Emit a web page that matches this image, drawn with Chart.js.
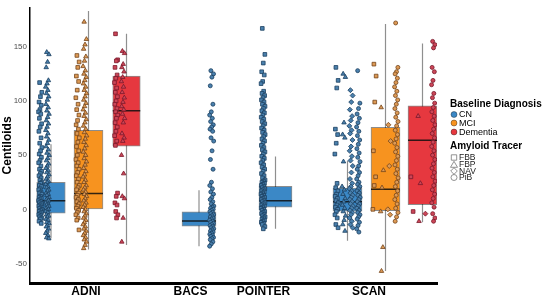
<!DOCTYPE html>
<html>
<head>
<meta charset="utf-8">
<script src="https://cdn.jsdelivr.net/npm/chart.js@4.4.0/dist/chart.umd.min.js"></script>
<style>
  html, body { margin: 0; padding: 0; background: #fff; }
  canvas { display: block; }
</style>
</head>
<body>
<canvas id="grafico" width="546" height="298"></canvas>
<script>
// Categorías
const studies = ['ADNI', 'BACS', 'POINTER', 'SCAN'];
const diagnoses = ['CN', 'MCI', 'Dementia'];
const tracers = ['FBB', 'FBP', 'NAV', 'PiB'];
const yTicks = [-50, 0, 50, 100, 150];

// Cajas (una por estudio / diagnóstico)
const boxStudy     = ['ADNI', 'ADNI', 'ADNI', 'BACS', 'POINTER', 'SCAN', 'SCAN', 'SCAN'];
const boxDiagnosis = ['CN', 'MCI', 'Dementia', 'CN', 'CN', 'CN', 'MCI', 'Dementia'];
const boxLow    = [-27, -37, -33, -34, -18, -29, -57, -12];
const boxQ1     = [-3.6, 0.3, 58.3, -15.5, 2.1, -1.8, -1.2, 4.2];
const boxMedian = [7.8, 14.6, 91, -10.7, 8, 7, 18.5, 63.7];
const boxQ3     = [25, 73, 123, -2.4, 21.2, 19.6, 75.6, 95.5];
const boxHigh   = [60, 183, 162, 17.6, 48.8, 44.6, 171, 153];

// Puntos individuales (Centiloids) por estudio / diagnóstico / trazador
const adniCnFbb = [117, 108, 104, 99, 96, 92, 90, 88, 84, 79, 76, 72, 66, 61, 57, 54, 51, 48, 45, 43, 40, 37, 35, 33, 31, 29, 27, 25, 24, 22, 21, 19, 18, 16, 15, 14, 12, 11, 10, 9, 8, 7, 6, 5, 4, 3, 2, 1, 0, -1, -2, -3, -4, -5, -6, -7, -8, -9, -11, -13];
const adniCnFbp = [145, 143, 136, 131, 119, 116, 113, 110, 107, 104, 101, 97, 94, 91, 88, 85, 82, 79, 76, 73, 70, 67, 64, 61, 58, 55, 52, 50, 47, 45, 42, 40, 38, 36, 34, 32, 30, 28, 26, 25, 23, 21, 20, 18, 17, 15, 14, 13, 11, 10, 9, 8, 7, 6, 5, 4, 3, 2, 1, 0, -1, -2, -3, -5, -6, -7, -9, -10, -12, -13, -15, -16, -18, -20, -22, -24, -26, -27];
const adniMciFbb = [142, 136, 131, 123, 118, 110, 103, 97, 92, 87, 82, 78, 74, 70, 66, 62, 58, 54, 50, 46, 43, 40, 37, 34, 31, 28, 25, 22, 20, 18, 15, 13, 11, 9, 7, 5, 3, 1, -1, -3, -5, -8, -10, -19];
const adniMciFbp = [173, 157, 152, 148, 141, 137, 132, 128, 125, 122, 119, 116, 113, 110, 107, 104, 101, 98, 95, 92, 89, 86, 83, 80, 77, 74, 71, 68, 65, 62, 59, 56, 53, 50, 47, 44, 41, 38, 35, 32, 30, 27, 25, 22, 20, 18, 16, 14, 12, 10, 8, 6, 4, 2, 0, -2, -4, -6, -8, -10, -12, -14, -16, -18, -20, -22, -24, -26, -28, -30, -33, -36];
const adniDemFbb = [162, 138, 137, 131, 124, 121, 117, 112, 108, 104, 100, 97, 93, 90, 87, 84, 80, 76, 72, 68, 63, 59, 15, 12, 6, 4, -2, -5, -8];
const adniDemFbp = [146, 144, 134, 131, 127, 122, 118, 113, 108, 103, 99, 95, 92, 88, 84, 80, 70, 66, 63, 50, 33, 12, 10, -8, -30];
const bacsCnPib = [128, 125, 122, 114, 97, 90, 87, 84, 81, 78, 76, 74, 72, 66, 63, 54, 46, 37, 25, 22, 19, 16, 14, 11, 9, 7, 5, 3, 2, 1, 0, -1, -2, -3, -4, -5, -6, -7, -8, -9, -10, -11, -12, -13, -14, -15, -16, -17, -18, -19, -20, -21, -22, -23, -24, -25, -26, -27, -28, -30, -32, -34];
const pointerCnFbb = [167, 143, 135, 127, 124, 118, 116, 109, 107, 105, 103, 101, 99, 97, 95, 93, 91, 89, 87, 85, 83, 81, 79, 77, 75, 73, 71, 69, 67, 65, 63, 61, 59, 57, 55, 53, 51, 49, 47, 45, 43, 41, 39, 37, 35, 33, 31, 29, 27, 26, 25, 24, 23, 22, 21, 20, 19, 18, 17, 16, 15, 14, 13, 12, 11, 10, 9, 8, 7, 6, 5, 4, 3, 2, 1, 0, -1, -2, -3, -4, -5, -6, -7, -8, -9, -10, -11, -12, -13, -14, -16, -18];
const scanCnFbb = [131, 119, 112, 74, 69, 61, 51, 24, 20, 17, 14, 12, 10, 8, 6, 4, 2, 0, -2, -5, -8, -14, -17];
const scanCnFbp = [125, 122, 80, 69, 66, 44, 21, 18, 14, 10, 7, 4, 1, -2, -6, -10, -14, -20];
const scanCnNav = [110, 105, 99, 92, 86, 82, 77, 73, 70, 64, 58, 54, 49, 45, 40, 34, 28, 24, 21, 19, 17, 15, 13, 11, 9, 7, 5, 3, 1, -1, -3, -5, -8, -11, -14, -17];
const scanCnPib = [128, 98, 93, 88, 84, 80, 76, 72, 68, 64, 60, 56, 52, 48, 44, 40, 37, 34, 31, 28, 25, 23, 21, 19, 17, 15, 13, 11, 9, 7, 5, 3, 1, -1, -3, -5, -7, -9, -12, -15, -18, -21];
const scanMciFbb = [134, 123, 99, 54, 30, 22, 0];
const scanMciFbp = [94, 36, 20, -2, -35, -57];
const scanMciNav = [78, 63, 40, 0, -5];
const scanMciPib = [172, 131, 127, 125, 121, 117, 113, 109, 105, 101, 97, 93, 89, 85, 81, 77, 73, 69, 65, 61, 57, 53, 49, 45, 41, 37, 33, 29, 25, 21, 17, 13, 9, 5, 1, -3, -7, -11];
const scanDemFbb = [30, -2];
const scanDemFbp = [86, 24, -11];
const scanDemNav = [-4];
const scanDemPib = [155, 152, 149, 131, 127, 119, 115, 107, 103, 98, 94, 90, 86, 82, 78, 74, 70, 66, 62, 58, 54, 50, 46, 42, 38, 34, 30, 26, 22, 18, 14, 10, 6, 2, -4, -8, -11];

const pointGroups = [
    ['ADNI', 'CN', 'FBB', adniCnFbb], ['ADNI', 'CN', 'FBP', adniCnFbp],
    ['ADNI', 'MCI', 'FBB', adniMciFbb], ['ADNI', 'MCI', 'FBP', adniMciFbp],
    ['ADNI', 'Dementia', 'FBB', adniDemFbb], ['ADNI', 'Dementia', 'FBP', adniDemFbp],
    ['BACS', 'CN', 'PiB', bacsCnPib],
    ['POINTER', 'CN', 'FBB', pointerCnFbb],
    ['SCAN', 'CN', 'FBB', scanCnFbb], ['SCAN', 'CN', 'FBP', scanCnFbp],
    ['SCAN', 'CN', 'NAV', scanCnNav], ['SCAN', 'CN', 'PiB', scanCnPib],
    ['SCAN', 'MCI', 'FBB', scanMciFbb], ['SCAN', 'MCI', 'FBP', scanMciFbp],
    ['SCAN', 'MCI', 'NAV', scanMciNav], ['SCAN', 'MCI', 'PiB', scanMciPib],
    ['SCAN', 'Dementia', 'FBB', scanDemFbb], ['SCAN', 'Dementia', 'FBP', scanDemFbp],
    ['SCAN', 'Dementia', 'NAV', scanDemNav], ['SCAN', 'Dementia', 'PiB', scanDemPib]
];

// Diseño (posiciones en unidades del eje x = píxeles)
const studyTickX = { ADNI: 86, BACS: 190.5, POINTER: 263.5, SCAN: 369 };
const boxCenterX = [51, 88.5, 126.5, 199, 275.5, 347.5, 385.5, 422.5];
const boxWidth = [28.5, 29, 27.5, 34, 33, 29, 29, 29];

// Estilos
const fuente = '"Liberation Sans", Arial, Helvetica, sans-serif';
const colorCaja = { CN: '#3b88c6', MCI: '#f7931f', Dementia: '#e6383f' };
const colorPunto = { CN: '#4a80ad', MCI: '#dd9a55', Dementia: '#cc4658' };
const bordePunto = { CN: '#1b3f60', MCI: '#74441a', Dementia: '#781829' };
const estiloTrazador = { FBB: 'rect', FBP: 'triangle', NAV: 'rectRot', PiB: 'circle' };
const radioTrazador = { FBB: 2.6, FBP: 2.6, NAV: 2.5, PiB: 2.0 };

function indiceCaja(estudio, dx) {
    return boxStudy.findIndex((s, i) => s === estudio && boxDiagnosis[i] === dx);
}

const datasets = [];

// Bigotes
const bigotes = [];
boxCenterX.forEach((cx, i) => {
    bigotes.push({ x: cx, y: boxLow[i] }, { x: cx, y: boxHigh[i] }, { x: cx, y: null });
});
datasets.push({
    type: 'line', data: bigotes, borderColor: '#8f8f8f', borderWidth: 1.2,
    pointRadius: 0, spanGaps: false, order: 3
});

// Cajas
boxCenterX.forEach((cx, i) => {
    datasets.push({
        type: 'bar',
        data: [{ x: cx, y: [boxQ1[i], boxQ3[i]] }],
        barThickness: boxWidth[i],
        grouped: false,
        backgroundColor: colorCaja[boxDiagnosis[i]],
        borderColor: 'rgba(0,0,0,0.45)',
        borderWidth: 1,
        borderSkipped: false,
        order: 2
    });
});

// Medianas
const medianas = [];
boxCenterX.forEach((cx, i) => {
    medianas.push({ x: cx - boxWidth[i] / 2, y: boxMedian[i] }, { x: cx + boxWidth[i] / 2, y: boxMedian[i] }, { x: cx, y: null });
});
datasets.push({
    type: 'line', data: medianas, borderColor: 'rgba(15,15,15,0.85)', borderWidth: 1.5,
    pointRadius: 0, spanGaps: false, order: 1
});

// Puntos con desplazamiento fijo por trazador
pointGroups.forEach(([estudio, dx, tr, valores]) => {
    const b = indiceCaja(estudio, dx);
    const ancho = boxWidth[b] / 4;
    const izq = boxCenterX[b] - boxWidth[b] / 2 + tracers.indexOf(tr) * ancho;
    datasets.push({
        type: 'scatter',
        data: valores.map((v, i) => ({ x: izq + ancho * (0.25 + 0.5 * ((i * 0.618034 + 0.3) % 1)), y: v })),
        pointStyle: estiloTrazador[tr],
        pointRadius: radioTrazador[tr],
        backgroundColor: colorPunto[dx],
        borderColor: bordePunto[dx],
        borderWidth: 0.8,
        order: 0
    });
});

// Leyenda dibujada a mano
const leyenda = {
    id: 'leyenda',
    afterDraw(chart) {
        const ctx = chart.ctx;
        ctx.save();
        ctx.textBaseline = 'middle';
        ctx.fillStyle = '#000';
        ctx.font = 'bold 10px ' + fuente;
        ctx.fillText('Baseline Diagnosis', 450, 104.5);
        const yDx = [114.5, 123, 132];
        diagnoses.forEach((d, i) => {
            ctx.beginPath();
            ctx.arc(454, yDx[i], 3, 0, Math.PI * 2);
            ctx.fillStyle = colorCaja[d];
            ctx.fill();
            ctx.strokeStyle = 'rgba(0,0,0,0.5)';
            ctx.lineWidth = 0.7;
            ctx.stroke();
            ctx.fillStyle = '#000';
            ctx.font = '9px ' + fuente;
            ctx.fillText(d, 459, yDx[i] + 0.5);
        });
        ctx.font = 'bold 10px ' + fuente;
        ctx.fillText('Amyloid Tracer', 450, 146);
        const yTr = [157.5, 164.5, 171, 177.5];
        ctx.strokeStyle = '#777';
        ctx.lineWidth = 0.8;
        tracers.forEach((t, i) => {
            const x = 454, y = yTr[i];
            ctx.beginPath();
            if (t === 'FBB') ctx.rect(x - 2.7, y - 2.7, 5.4, 5.4);
            else if (t === 'FBP') { ctx.moveTo(x, y - 3.2); ctx.lineTo(x + 3.5, y + 2.8); ctx.lineTo(x - 3.5, y + 2.8); ctx.closePath(); }
            else if (t === 'NAV') { ctx.moveTo(x, y - 3.3); ctx.lineTo(x + 3.3, y); ctx.lineTo(x, y + 3.3); ctx.lineTo(x - 3.3, y); ctx.closePath(); }
            else ctx.arc(x, y, 3, 0, Math.PI * 2);
            ctx.stroke();
            ctx.fillStyle = '#222';
            ctx.font = '8.5px ' + fuente;
            ctx.fillText(t, 459, y + 0.5);
        });
        ctx.restore();
    }
};

new Chart(document.getElementById('grafico').getContext('2d'), {
    type: 'scatter',
    data: { datasets: datasets },
    plugins: [leyenda],
    options: {
        responsive: false,
        animation: false,
        layout: { padding: { left: 0, right: 109, top: 0, bottom: 0 } },
        plugins: { legend: { display: false }, tooltip: { enabled: false } },
        scales: {
            x: {
                type: 'linear', min: 30, max: 437, offset: false,
                afterFit(s) { s.height = 15; },
                afterBuildTicks(s) { s.ticks = studies.map(n => ({ value: studyTickX[n] })); },
                ticks: {
                    autoSkip: false, maxRotation: 0, padding: 1.5, color: '#000',
                    font: { family: fuente, size: 12, weight: 'bold' },
                    callback: (v, i) => studies[i]
                },
                grid: { display: false, drawTicks: false },
                border: { display: true, color: '#000', width: 3 }
            },
            y: {
                type: 'linear', min: -68, max: 186,
                afterFit(s) { s.width = 30; },
                afterBuildTicks(s) { s.ticks = yTicks.map(v => ({ value: v })); },
                ticks: { padding: 3, color: '#4d4d4d', font: { family: fuente, size: 8 } },
                grid: { display: false, drawTicks: false },
                border: { display: true, color: '#000', width: 1.5 },
                title: {
                    display: true, text: 'Centiloids', padding: 0, color: '#000',
                    font: { family: fuente, size: 12, weight: 'bold' }
                }
            }
        }
    }
});
</script>
</body>
</html>
